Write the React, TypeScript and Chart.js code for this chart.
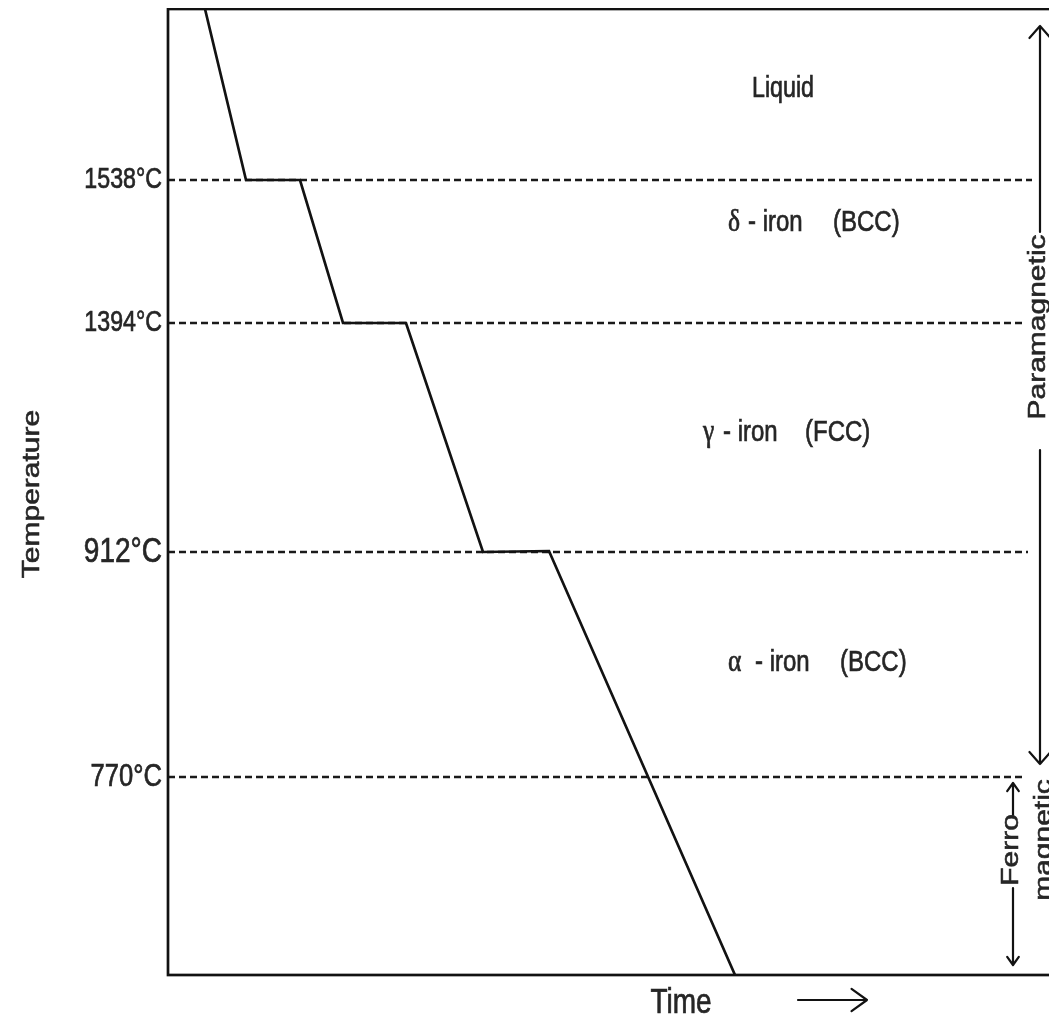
import React, { useEffect, useRef } from "react";
import { Chart, registerables } from "chart.js";

Chart.register(...registerables);

// Cooling curve of pure iron (schematic; y is a schematic temperature level, x is time)
const curveTime = [37, 78, 132, 175, 238, 315, 381, 567];
const curveLevel = [966, 795, 795, 652, 652, 423, 424, 0];

// Transformation temperatures
const tempLabels = ["1538°C", "1394°C", "912°C", "770°C"];
const tempLevels = [795, 652, 423, 198];
const tempLabelSizes = [29, 29, 35, 32];
const dashEnd = [864, 857, 860, 857];

// Phase fields: greek symbol, name, structure
const phaseGreek = ["", "δ", "γ", "α"];
const phaseName = ["Liquid", "- iron", "- iron", "- iron"];
const phaseLattice = ["", "(BCC)", "(FCC)", "(BCC)"];

const X_MAX = 930;
const Y_MAX = 966;
const SQ = 0.8;
const FONT = '"Liberation Sans", Arial, sans-serif';
const SERIF = '"Liberation Serif", "DejaVu Serif", serif';
const INK = "#121212";
const TXT = "#262626";

function txt(
  ctx: CanvasRenderingContext2D,
  s: string,
  x: number,
  y: number,
  size: number,
  align: CanvasTextAlign = "center",
  rot = 0,
  family = FONT
) {
  ctx.save();
  ctx.translate(x, y);
  ctx.scale(SQ, 1);
  if (rot) ctx.rotate(rot);
  ctx.font = `${size}px ${family}`;
  ctx.fillStyle = TXT;
  ctx.strokeStyle = TXT;
  ctx.lineWidth = 0.7;
  ctx.textAlign = align;
  ctx.textBaseline = "middle";
  ctx.fillText(s, 0, 0);
  ctx.strokeText(s, 0, 0);
  ctx.restore();
}

function arrow(
  ctx: CanvasRenderingContext2D,
  x1: number,
  y1: number,
  x2: number,
  y2: number,
  head = 11,
  sp = 0.6,
  w = 2.2
) {
  const a = Math.atan2(y2 - y1, x2 - x1);
  ctx.save();
  ctx.strokeStyle = INK;
  ctx.lineWidth = w;
  ctx.lineCap = "round";
  ctx.lineJoin = "round";
  ctx.beginPath();
  ctx.moveTo(x1, y1);
  ctx.lineTo(x2, y2);
  ctx.moveTo(x2 - head * Math.cos(a - sp), y2 - head * Math.sin(a - sp));
  ctx.lineTo(x2, y2);
  ctx.lineTo(x2 - head * Math.cos(a + sp), y2 - head * Math.sin(a + sp));
  ctx.stroke();
  ctx.restore();
}

const decor = {
  id: "decor",
  afterDatasetsDraw(chart: any) {
    const ctx: CanvasRenderingContext2D = chart.ctx;
    const { left, top, right, bottom } = chart.chartArea;
    const ys = chart.scales.y;
    // offset from page coords to canvas coords
    const P = (v: number) => v - 8;

    ctx.save();
    ctx.strokeStyle = INK;
    ctx.lineWidth = 2.7;
    ctx.strokeRect(left, top, right - left, bottom - top);
    ctx.restore();

    // temperature tick labels
    tempLevels.forEach((lv, i) => {
      txt(ctx, tempLabels[i], left - 6, ys.getPixelForValue(lv), tempLabelSizes[i], "right");
    });

    // phase labels
    txt(ctx, phaseName[0], P(783), P(89), 29);
    const rows = [
      { y: 223, g: 728, n: 748, l: 833 },
      { y: 433, g: 703, n: 723, l: 805 },
      { y: 663, g: 728, n: 755, l: 840 },
    ];
    rows.forEach((r, k) => {
      const i = k + 1;
      txt(ctx, phaseGreek[i], P(r.g), P(r.y), 32, "left", 0, SERIF);
      txt(ctx, phaseName[i], P(r.n), P(r.y), 30, "left");
      txt(ctx, phaseLattice[i], P(r.l), P(r.y), 30, "left");
    });

    // axis titles
    txt(ctx, "Temperature", P(32), P(494), 30, "center", -Math.PI / 2);
    txt(ctx, "Time", P(681), P(1003), 35);
    arrow(ctx, P(798), P(1000), P(867), P(1000), 19, 0.62);

    // magnetic annotations
    arrow(ctx, P(1040), P(232), P(1040), P(26), 16, 0.72);
    txt(ctx, "Paramagnetic", P(1038), P(327), 30, "center", -Math.PI / 2);
    arrow(ctx, P(1040), P(450), P(1040), P(764), 16, 0.72);

    arrow(ctx, P(1013), P(815), P(1013), P(783), 10, 0.62);
    txt(ctx, "Ferro", P(1011), P(850), 30, "center", -Math.PI / 2);
    arrow(ctx, P(1013), P(888), P(1013), P(965), 10, 0.62);
    txt(ctx, "magnetic", P(1044), P(840), 30, "center", -Math.PI / 2);
  },
};

export default function App() {
  const ref = useRef<HTMLCanvasElement | null>(null);
  useEffect(() => {
    if (!ref.current) return;
    const datasets: any[] = [
      {
        label: "cooling",
        data: curveTime.map((t, i) => ({ x: t, y: curveLevel[i] })),
        borderColor: INK,
        borderWidth: 2.7,
        pointRadius: 0,
        tension: 0,
        clip: false,
      },
      ...tempLevels.map((lv, i) => ({
        label: tempLabels[i],
        data: [
          { x: 0, y: lv },
          { x: dashEnd[i], y: lv },
        ],
        borderColor: "#1a1a1a",
        borderWidth: 2.3,
        borderDash: [7, 4],
        pointRadius: 0,
      })),
    ];
    const chart = new Chart(ref.current, {
      type: "line",
      data: { datasets },
      options: {
        animation: false,
        responsive: false,
        layout: { padding: { left: 0, top: 1, right: 10, bottom: 0 } },
        plugins: { legend: { display: false }, tooltip: { enabled: false } },
        scales: {
          x: {
            type: "linear",
            min: 0,
            max: X_MAX,
            grid: { display: false },
            border: { display: false },
            ticks: { display: false },
            afterFit: (s: any) => {
              s.height = 49;
            },
          },
          y: {
            type: "linear",
            min: 0,
            max: Y_MAX,
            grid: { display: false },
            border: { display: false },
            ticks: { display: false },
            afterBuildTicks: (s: any) => {
              s.ticks = tempLevels.map((v) => ({ value: v }));
            },
            afterFit: (s: any) => {
              s.width = 160;
            },
          },
        },
      },
      plugins: [decor],
    });
    return () => chart.destroy();
  }, []);
  return (
    <div style={{ width: 1049, height: 1016, overflow: "hidden" }}>
      <canvas ref={ref} width={1100} height={1016} />
    </div>
  );
}
